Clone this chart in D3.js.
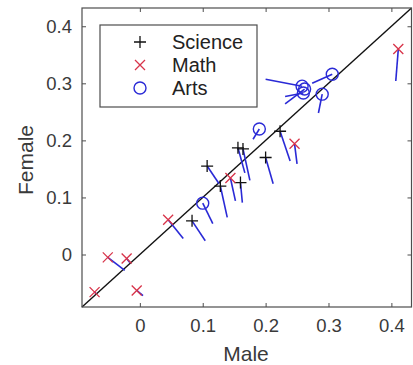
<!DOCTYPE html>
<html><head><meta charset="utf-8">
<script src="https://cdn.jsdelivr.net/npm/d3@7"></script>
<style>html,body{margin:0;padding:0;background:#fff;}svg{display:block;}</style>
</head><body>
<svg id="c" width="413" height="365"></svg>
<script>
// Data (Male, Female) and the end point of each blue tail
const scienceMale      = [0.083, 0.107, 0.128, 0.156, 0.164, 0.160, 0.200, 0.223];
const scienceFemale    = [0.059, 0.155, 0.120, 0.187, 0.185, 0.126, 0.170, 0.216];
const scienceMaleEnd   = [0.104, 0.126, 0.139, 0.167, 0.175, 0.163, 0.212, 0.239];
const scienceFemaleEnd = [0.024, 0.124, 0.065, 0.143, 0.130, 0.091, 0.124, 0.164];

const mathMale      = [-0.072, -0.051, -0.021, -0.005, 0.045, 0.144, 0.246, 0.411];
const mathFemale    = [-0.066, -0.005, -0.007, -0.063, 0.061, 0.134, 0.194, 0.360];
const mathMaleEnd   = [-0.070, -0.024, -0.016, 0.005, 0.069, 0.152, 0.250, 0.407];
const mathFemaleEnd = [-0.068, -0.028, -0.014, -0.072, 0.028, 0.094, 0.159, 0.304];

const artsMale      = [0.100, 0.190, 0.258, 0.260, 0.262, 0.290, 0.306];
const artsFemale    = [0.090, 0.220, 0.295, 0.283, 0.290, 0.281, 0.316];
const artsMaleEnd   = [0.116, 0.180, 0.200, 0.231, 0.231, 0.284, 0.274];
const artsFemaleEnd = [0.054, 0.202, 0.307, 0.277, 0.264, 0.248, 0.300];

const tickValues = [0, 0.1, 0.2, 0.3, 0.4];
const tickLabels = ["0", "0.1", "0.2", "0.3", "0.4"];
const legendLabels = ["Science", "Math", "Arts"];
const axisMin = -0.092, axisMax = 0.432;

const svg = d3.select("#c");
const L = 82, R = 411.5, T = 8, B = 307;
const x = d3.scaleLinear().domain([axisMin, axisMax]).range([L, R]);
const y = d3.scaleLinear().domain([axisMin, axisMax]).range([B, T]);
const axisColor = "#4d4d4d", textColor = "#3a3a3a";
const font = "Liberation Sans, Arial, sans-serif";

// diagonal
svg.append("line").attr("x1", x(axisMin)).attr("y1", y(axisMin)).attr("x2", x(axisMax)).attr("y2", y(axisMax))
  .attr("stroke", "#111").attr("stroke-width", 1.4);

// tails
const tailColor = "#2a2ad6";
function tails(mx, fy, mx2, fy2) {
  svg.append("g").selectAll("line").data(mx).join("line")
    .attr("x1", (d, i) => x(d)).attr("y1", (d, i) => y(fy[i]))
    .attr("x2", (d, i) => x(mx2[i])).attr("y2", (d, i) => y(fy2[i]))
    .attr("stroke", tailColor).attr("stroke-width", 1.6);
}
tails(scienceMale, scienceFemale, scienceMaleEnd, scienceFemaleEnd);
tails(mathMale, mathFemale, mathMaleEnd, mathFemaleEnd);
tails(artsMale, artsFemale, artsMaleEnd, artsFemaleEnd);

// markers
const plusPath = "M-6,0H6M0,-6V6";
const crossPath = "M-5,-5L5,5M-5,5L5,-5";
function markers(mx, fy, kind) {
  const g = svg.append("g");
  const sel = g.selectAll("g").data(mx).join("g")
    .attr("transform", (d, i) => `translate(${x(d)},${y(fy[i])})`);
  drawMarker(sel, kind);
}
function drawMarker(sel, kind) {
  if (kind === "plus") sel.append("path").attr("d", plusPath).attr("stroke", "#111").attr("stroke-width", 1.3).attr("fill", "none");
  if (kind === "cross") sel.append("path").attr("d", crossPath).attr("stroke", "#d8344a").attr("stroke-width", 1.3).attr("fill", "none");
  if (kind === "circle") sel.append("circle").attr("r", 6).attr("stroke", "#2a2ad6").attr("stroke-width", 1.4).attr("fill", "none");
}
markers(scienceMale, scienceFemale, "plus");
markers(mathMale, mathFemale, "cross");
markers(artsMale, artsFemale, "circle");

// box
svg.append("rect").attr("x", L).attr("y", T).attr("width", R - L).attr("height", B - T)
  .attr("fill", "none").attr("stroke", axisColor).attr("stroke-width", 1.2);

// axes with inward ticks
const tl = 4;
const xb = d3.axisBottom(x).tickValues(tickValues).tickFormat((d, i) => tickLabels[i]).tickSizeInner(-tl).tickSizeOuter(0).tickPadding(12);
const yl = d3.axisLeft(y).tickValues(tickValues).tickFormat((d, i) => tickLabels[i]).tickSizeInner(-tl).tickSizeOuter(0).tickPadding(10);
const xt = d3.axisTop(x).tickValues(tickValues).tickFormat("").tickSizeInner(-tl).tickSizeOuter(0);
const yr = d3.axisRight(y).tickValues(tickValues).tickFormat("").tickSizeInner(-tl).tickSizeOuter(0);
function styleAxis(g) {
  g.select(".domain").remove();
  g.selectAll("line").attr("stroke", axisColor);
  g.selectAll("text").attr("fill", textColor).style("font-family", font).style("font-size", "18.5px");
}
svg.append("g").attr("transform", `translate(0,${B})`).call(xb).call(styleAxis);
svg.append("g").attr("transform", `translate(${L},0)`).call(yl).call(styleAxis);
svg.append("g").attr("transform", `translate(0,${T})`).call(xt).call(styleAxis);
svg.append("g").attr("transform", `translate(${R},0)`).call(yr).call(styleAxis);

// axis labels
svg.append("text").attr("x", 246).attr("y", 361).attr("text-anchor", "middle")
  .attr("fill", textColor).style("font-family", font).style("font-size", "21px").text("Male");
svg.append("text").attr("transform", "translate(33,160) rotate(-90)").attr("text-anchor", "middle")
  .attr("fill", textColor).style("font-family", font).style("font-size", "21px").text("Female");

// legend
const lg = svg.append("g");
lg.append("rect").attr("x", 100).attr("y", 25).attr("width", 157).attr("height", 82)
  .attr("fill", "#fff").attr("stroke", axisColor).attr("stroke-width", 1.2);
const kinds = ["plus", "cross", "circle"];
const items = lg.selectAll("g").data(legendLabels).join("g")
  .attr("transform", (d, i) => `translate(140,${42 + i * 23})`);
items.each(function(d, i) { drawMarker(d3.select(this), kinds[i]); });
items.append("text").attr("x", 32).attr("y", 7).attr("fill", "#222")
  .style("font-family", font).style("font-size", "20px").text(d => d);
</script>
</body></html>
